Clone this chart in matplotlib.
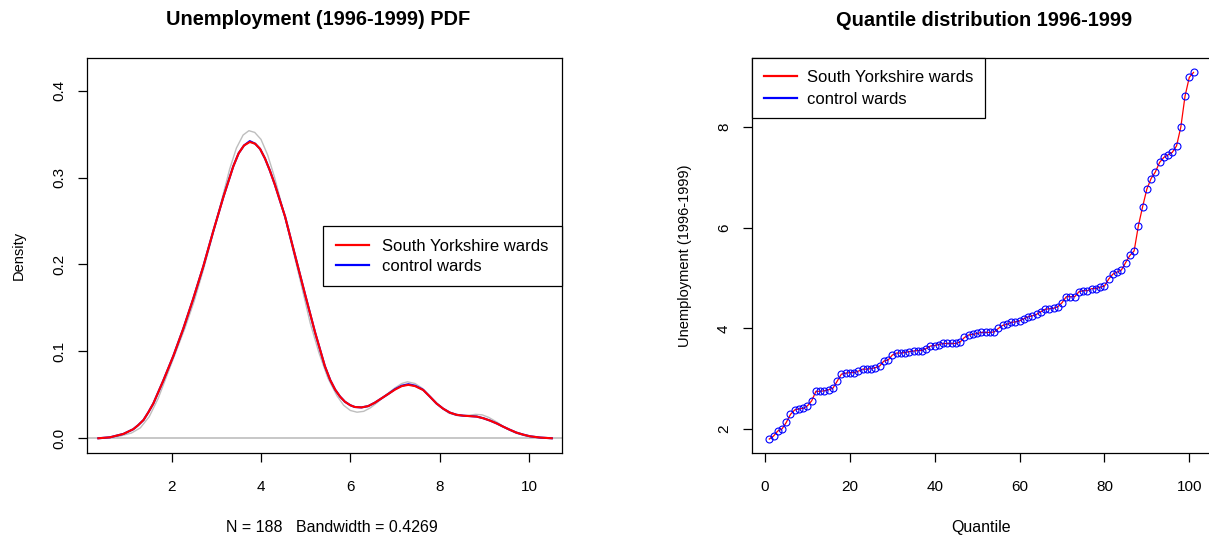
import matplotlib
matplotlib.use("Agg")
import matplotlib.pyplot as plt

plt.rcParams['font.family'] = ['Liberation Sans', 'DejaVu Sans']

# ---------------- data: left panel (density curves) ----------------
sy_x = [0.36, 0.62, 0.92, 1.14, 1.25, 1.37, 1.48, 1.59, 1.81, 2.04, 2.26, 2.48,
        2.71, 2.93, 3.16, 3.38, 3.50, 3.62, 3.75, 3.87, 3.98, 4.09, 4.20, 4.31,
        4.54, 4.76, 4.99, 5.21, 5.43, 5.55, 5.66, 5.77, 5.88, 6.00, 6.10, 6.25,
        6.40, 6.55, 6.70, 6.85, 7.00, 7.15, 7.30, 7.45, 7.63, 7.78, 7.93, 8.08,
        8.23, 8.38, 8.53, 8.68, 8.83, 8.98, 9.13, 9.28, 9.42, 9.57, 9.72, 9.87,
        10.02, 10.25, 10.51]
sy_density = [0.000, 0.0011, 0.005, 0.0104, 0.015, 0.021, 0.030, 0.040, 0.066,
              0.095, 0.126, 0.160, 0.198, 0.238, 0.278, 0.313, 0.328, 0.337,
              0.341, 0.339, 0.333, 0.322, 0.308, 0.292, 0.255, 0.211, 0.165,
              0.122, 0.083, 0.067, 0.056, 0.048, 0.042, 0.038, 0.036, 0.0355,
              0.037, 0.041, 0.046, 0.051, 0.056, 0.060, 0.0615, 0.060, 0.0556,
              0.048, 0.040, 0.034, 0.0295, 0.027, 0.026, 0.0255, 0.0249, 0.023,
              0.0203, 0.017, 0.0134, 0.0098, 0.0065, 0.0042, 0.0023, 0.0008, 0.000]

control_x = [0.36, 0.62, 0.92, 1.14, 1.25, 1.37, 1.48, 1.59, 1.81, 2.04, 2.26, 2.48,
             2.71, 2.93, 3.16, 3.38, 3.50, 3.62, 3.75, 3.87, 3.98, 4.09, 4.20, 4.31,
             4.54, 4.76, 4.99, 5.21, 5.43, 5.55, 5.66, 5.77, 5.88, 6.00, 6.10, 6.25,
             6.40, 6.55, 6.70, 6.85, 7.00, 7.15, 7.30, 7.45, 7.63, 7.78, 7.93, 8.08,
             8.23, 8.38, 8.53, 8.68, 8.83, 8.98, 9.13, 9.28, 9.42, 9.57, 9.72, 9.87,
             10.02, 10.25, 10.51]
control_density = [0.000, 0.0011, 0.005, 0.0104, 0.015, 0.021, 0.030, 0.040, 0.066,
                   0.095, 0.126, 0.160, 0.198, 0.238, 0.278, 0.313, 0.328, 0.337,
                   0.342, 0.339, 0.333, 0.322, 0.308, 0.292, 0.255, 0.211, 0.165,
                   0.122, 0.083, 0.067, 0.056, 0.048, 0.042, 0.038, 0.036, 0.0355,
                   0.037, 0.041, 0.046, 0.051, 0.0565, 0.0605, 0.0622, 0.0605, 0.0558,
                   0.048, 0.040, 0.034, 0.0295, 0.027, 0.026, 0.0255, 0.0250, 0.023,
                   0.0203, 0.017, 0.0134, 0.0098, 0.0065, 0.0042, 0.0023, 0.0008, 0.000]

pooled_x = [0.50, 0.80, 1.10, 1.30, 1.50, 1.70, 1.90, 2.10, 2.30, 2.50, 2.70,
            2.90, 3.10, 3.30, 3.45, 3.60, 3.73, 3.86, 4.00, 4.15, 4.30, 4.50,
            4.70, 4.90, 5.10, 5.30, 5.50, 5.70, 5.85, 6.00, 6.15, 6.30, 6.45,
            6.60, 6.80, 7.00, 7.15, 7.28, 7.45, 7.60, 7.80, 8.00, 8.20, 8.40,
            8.60, 8.80, 8.95, 9.10, 9.30, 9.50, 9.70, 9.90, 10.10, 10.38]
pooled_density = [0.000, 0.002, 0.006, 0.012, 0.025, 0.046, 0.073, 0.100, 0.127,
                  0.157, 0.192, 0.230, 0.270, 0.310, 0.334, 0.349, 0.354, 0.352,
                  0.344, 0.326, 0.301, 0.262, 0.220, 0.177, 0.133, 0.098, 0.069,
                  0.049, 0.038, 0.032, 0.030, 0.031, 0.035, 0.041, 0.050, 0.058,
                  0.063, 0.065, 0.063, 0.058, 0.047, 0.037, 0.029, 0.026, 0.026,
                  0.0275, 0.027, 0.024, 0.018, 0.011, 0.006, 0.003, 0.001, 0.000]

density_xticks = [2, 4, 6, 8, 10]
density_yticks = [0.0, 0.1, 0.2, 0.3, 0.4]

# ---------------- data: right panel (quantiles) ----------------
quantile_index = list(range(1, 102))
sy_quantiles = [1.80, 1.86, 1.96, 2.00, 2.13, 2.29, 2.38, 2.40, 2.41, 2.46,
                2.56, 2.75, 2.75, 2.76, 2.78, 2.81, 2.95, 3.09, 3.11, 3.12,
                3.12, 3.15, 3.19, 3.19, 3.20, 3.22, 3.25, 3.35, 3.37, 3.47,
                3.51, 3.51, 3.52, 3.54, 3.55, 3.56, 3.56, 3.60, 3.65, 3.66,
                3.68, 3.70, 3.70, 3.70, 3.70, 3.73, 3.82, 3.87, 3.88, 3.90,
                3.92, 3.92, 3.92, 3.93, 4.00, 4.06, 4.08, 4.12, 4.13, 4.15,
                4.19, 4.23, 4.25, 4.28, 4.33, 4.38, 4.39, 4.40, 4.43, 4.51,
                4.63, 4.63, 4.63, 4.73, 4.75, 4.75, 4.79, 4.79, 4.82, 4.84,
                4.98, 5.08, 5.12, 5.16, 5.31, 5.45, 5.54, 6.04, 6.42, 6.77,
                6.98, 7.11, 7.30, 7.40, 7.45, 7.50, 7.63, 8.00, 8.62, 8.99,
                9.09]
control_quantiles = list(sy_quantiles)

quant_xticks = [0, 20, 40, 60, 80, 100]
quant_yticks = [2, 4, 6, 8]

series_labels = ["South Yorkshire wards", "control wards"]

# ---------------- figure ----------------
W, H = 1209, 539
fig = plt.figure(figsize=(W / 100, H / 100), dpi=100)

def px_axes(l, t, r, b):
    return fig.add_axes([l / W, 1 - b / H, (r - l) / W, (b - t) / H])

TICK_FS = 11.0
XLAB_FS = 11.5
YLAB_FS = 10.5
LEG_FS = 12.0
TITLE_FS = 14.4

def style_axes(ax):
    for s in ax.spines.values():
        s.set_color("black")
        s.set_linewidth(0.9)
    ax.tick_params(direction="out", length=6.8, width=0.9, colors="black",
                   labelsize=TICK_FS)
    ax.tick_params(axis="x", pad=12.5)
    ax.tick_params(axis="y", pad=8.5)
    for lab in ax.get_yticklabels():
        lab.set_rotation(90)
        lab.set_va("center")

# Left panel
ax1 = px_axes(87.3, 57.7, 561.7, 453.3)
ax1.axhline(0, color="#BEBEBE", lw=1.2, zorder=1)
ax1.plot(pooled_x, pooled_density, color="#BEBEBE", lw=1.0, zorder=2)
ax1.plot(control_x, control_density, color="#0000FF", lw=1.5, zorder=3,
         label=series_labels[1])
ax1.plot(sy_x, sy_density, color="#FF0000", lw=1.5, zorder=4,
         label=series_labels[0])
ax1.set_xlim(0.112, 10.732)
ax1.set_ylim(-0.0173, 0.438)
ax1.set_xticks(density_xticks)
ax1.set_xticklabels([str(v) for v in density_xticks])
ax1.set_yticks(density_yticks)
ax1.set_yticklabels(["%.1f" % v for v in density_yticks])
style_axes(ax1)
ax1.set_title("Unemployment (1996-1999) PDF", fontsize=TITLE_FS,
              fontweight="bold", pad=23.5, x=0.487)
ax1.set_xlabel("N = 188   Bandwidth = 0.4269", fontsize=XLAB_FS)
ax1.xaxis.set_label_coords(0.515, -0.168)
ax1.set_ylabel("Density", fontsize=YLAB_FS)
ax1.yaxis.set_label_coords(-0.129, 0.5)
h1, l1 = ax1.get_legend_handles_labels()
leg1 = ax1.legend(h1[::-1], l1[::-1], loc="upper right",
                  bbox_to_anchor=(1.0, 0.5753), borderaxespad=0,
                  fancybox=False, edgecolor="black", framealpha=1,
                  fontsize=LEG_FS, handlelength=2.0, handletextpad=0.78,
                  labelspacing=0.3, borderpad=0.77)
leg1.get_frame().set_linewidth(0.9)
for ln in leg1.get_lines():
    ln.set_linewidth(1.6)

# Right panel
ax2 = px_axes(752.3, 58.3, 1210.5, 453.3)
ax2.plot(quantile_index, sy_quantiles, color="#FF0000", lw=0.9, zorder=2,
         label=series_labels[0])
ax2.plot(quantile_index, control_quantiles, linestyle="none", marker="o",
         markersize=5.0, markerfacecolor="none", markeredgecolor="#0000FF",
         markeredgewidth=0.8, zorder=3)
ax2.plot([], [], color="#0000FF", lw=0.9, label=series_labels[1])
ax2.set_xlim(-3, 105)
ax2.set_ylim(1.517, 9.37)
ax2.set_xticks(quant_xticks)
ax2.set_xticklabels([str(v) for v in quant_xticks])
ax2.set_yticks(quant_yticks)
ax2.set_yticklabels([str(v) for v in quant_yticks])
style_axes(ax2)
ax2.set_title("Quantile distribution 1996-1999", fontsize=TITLE_FS,
              fontweight="bold", pad=23.5, x=0.505)
ax2.set_xlabel("Quantile", fontsize=XLAB_FS)
ax2.xaxis.set_label_coords(0.5, -0.168)
ax2.set_ylabel("Unemployment (1996-1999)", fontsize=YLAB_FS)
ax2.yaxis.set_label_coords(-0.1316, 0.5)
leg2 = ax2.legend(loc="upper left", bbox_to_anchor=(0.0, 1.0),
                  borderaxespad=0, fancybox=False, edgecolor="black",
                  framealpha=1, fontsize=LEG_FS, handlelength=2.0,
                  handletextpad=0.6, labelspacing=0.4, borderpad=0.7)
leg2.get_frame().set_linewidth(0.9)
for ln in leg2.get_lines():
    ln.set_linewidth(1.6)

fig.savefig("out.png", dpi=100)
